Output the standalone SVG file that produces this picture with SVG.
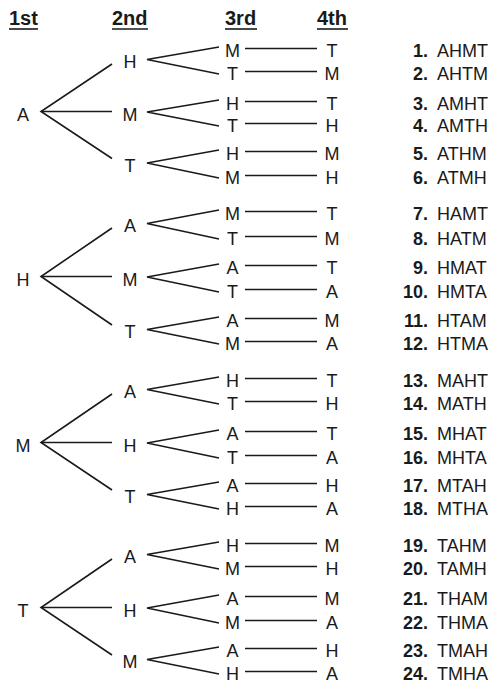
<svg xmlns="http://www.w3.org/2000/svg" width="490" height="684" viewBox="0 0 490 684">
<style>
text{font-family:"Liberation Sans",Arial,sans-serif;fill:#1a1a1a}
.h{font-size:20px;font-weight:bold}
.l{font-size:18px;text-anchor:middle}
.w{font-size:18px}
.n{font-size:18px;font-weight:bold;text-anchor:end}
.c line,.c polyline{stroke:#1a1a1a;stroke-width:1.6;fill:none}
.u{stroke:#1a1a1a;stroke-width:1.6}
</style>
<rect width="490" height="684" fill="#fff"/>
<g id="headers">
<g id="h1"><text class="h" x="9" y="25">1st</text><line class="u" x1="9" y1="29" x2="38" y2="29"/></g>
<g id="h2"><text class="h" x="112" y="25">2nd</text><line class="u" x1="112" y1="29" x2="148" y2="29"/></g>
<g id="h3"><text class="h" x="225" y="25">3rd</text><line class="u" x1="225" y1="29" x2="257" y2="29"/></g>
<g id="h4"><text class="h" x="317" y="25">4th</text><line class="u" x1="317" y1="29" x2="348" y2="29"/></g>
</g>
<g id="connectors" class="c">
<polyline points="112,64 41,111.5 112,158.5"/><line x1="41" y1="111.5" x2="112" y2="111.5"/>
<polyline points="219,47 147,59.5 219,74"/><polyline points="219,100 147,112 219,126"/><polyline points="219,150 147,163 219,178"/>
<line x1="245" y1="48.5" x2="317" y2="48.5"/><line x1="245" y1="71.5" x2="317" y2="71.5"/><line x1="245" y1="101.5" x2="317" y2="101.5"/><line x1="245" y1="123.5" x2="317" y2="123.5"/><line x1="245" y1="151.5" x2="317" y2="151.5"/><line x1="245" y1="175.5" x2="317" y2="175.5"/>
<polyline points="112,228 41,276.5 112,325"/><line x1="41" y1="276.5" x2="112" y2="276.5"/>
<polyline points="219,210 147,223.5 219,239"/><polyline points="219,264 147,277 219,292"/><polyline points="219,317 147,329.5 219,344"/>
<line x1="245" y1="211.5" x2="317" y2="211.5"/><line x1="245" y1="236.5" x2="317" y2="236.5"/><line x1="245" y1="265.5" x2="317" y2="265.5"/><line x1="245" y1="289.5" x2="317" y2="289.5"/><line x1="245" y1="318.5" x2="317" y2="318.5"/><line x1="245" y1="341.5" x2="317" y2="341.5"/>
<polyline points="112,394 41,442.5 112,490"/><line x1="41" y1="442.5" x2="112" y2="442.5"/>
<polyline points="219,377 147,389.5 219,404"/><polyline points="219,430 147,443 219,458"/><polyline points="219,482 147,494.5 219,509"/>
<line x1="245" y1="378.5" x2="317" y2="378.5"/><line x1="245" y1="401.5" x2="317" y2="401.5"/><line x1="245" y1="431.5" x2="317" y2="431.5"/><line x1="245" y1="455.5" x2="317" y2="455.5"/><line x1="245" y1="483.5" x2="317" y2="483.5"/><line x1="245" y1="506.5" x2="317" y2="506.5"/>
<polyline points="112,559 41,607.5 112,655"/><line x1="41" y1="607.5" x2="112" y2="607.5"/>
<polyline points="219,542 147,554.5 219,569"/><polyline points="219,595 147,608 219,623"/><polyline points="219,647 147,659.5 219,674"/>
<line x1="245" y1="543.5" x2="317" y2="543.5"/><line x1="245" y1="566.5" x2="317" y2="566.5"/><line x1="245" y1="596.5" x2="317" y2="596.5"/><line x1="245" y1="620.5" x2="317" y2="620.5"/><line x1="245" y1="648.5" x2="317" y2="648.5"/><line x1="245" y1="671.5" x2="317" y2="671.5"/>
</g>
<g id="level1">
<g id="n-A"><text class="l" x="23" y="120.5">A</text></g>
<g id="n-H"><text class="l" x="23" y="285.5">H</text></g>
<g id="n-M"><text class="l" x="23" y="451.5">M</text></g>
<g id="n-T"><text class="l" x="23" y="616.5">T</text></g>
</g>
<g id="level2">
<g id="n-AH"><text class="l" x="130" y="68">H</text></g>
<g id="n-AM"><text class="l" x="130" y="120.5">M</text></g>
<g id="n-AT"><text class="l" x="130" y="171.5">T</text></g>
<g id="n-HA"><text class="l" x="130" y="232">A</text></g>
<g id="n-HM"><text class="l" x="130" y="285.5">M</text></g>
<g id="n-HT"><text class="l" x="130" y="338">T</text></g>
<g id="n-MA"><text class="l" x="130" y="398">A</text></g>
<g id="n-MH"><text class="l" x="130" y="451.5">H</text></g>
<g id="n-MT"><text class="l" x="130" y="503">T</text></g>
<g id="n-TA"><text class="l" x="130" y="563">A</text></g>
<g id="n-TH"><text class="l" x="130" y="616.5">H</text></g>
<g id="n-TM"><text class="l" x="130" y="668">M</text></g>
</g>
<g id="level3">
<g id="n3-1"><text class="l" x="232.5" y="56.5">M</text></g>
<g id="n3-2"><text class="l" x="232.5" y="79.5">T</text></g>
<g id="n3-3"><text class="l" x="232.5" y="109.5">H</text></g>
<g id="n3-4"><text class="l" x="232.5" y="131.5">T</text></g>
<g id="n3-5"><text class="l" x="232.5" y="159.5">H</text></g>
<g id="n3-6"><text class="l" x="232.5" y="183.5">M</text></g>
<g id="n3-7"><text class="l" x="232.5" y="219.5">M</text></g>
<g id="n3-8"><text class="l" x="232.5" y="244.5">T</text></g>
<g id="n3-9"><text class="l" x="232.5" y="273.5">A</text></g>
<g id="n3-10"><text class="l" x="232.5" y="297.5">T</text></g>
<g id="n3-11"><text class="l" x="232.5" y="326.5">A</text></g>
<g id="n3-12"><text class="l" x="232.5" y="349.5">M</text></g>
<g id="n3-13"><text class="l" x="232.5" y="386.5">H</text></g>
<g id="n3-14"><text class="l" x="232.5" y="409.5">T</text></g>
<g id="n3-15"><text class="l" x="232.5" y="439.5">A</text></g>
<g id="n3-16"><text class="l" x="232.5" y="463.5">T</text></g>
<g id="n3-17"><text class="l" x="232.5" y="491.5">A</text></g>
<g id="n3-18"><text class="l" x="232.5" y="514.5">H</text></g>
<g id="n3-19"><text class="l" x="232.5" y="551.5">H</text></g>
<g id="n3-20"><text class="l" x="232.5" y="574.5">M</text></g>
<g id="n3-21"><text class="l" x="232.5" y="604.5">A</text></g>
<g id="n3-22"><text class="l" x="232.5" y="628.5">M</text></g>
<g id="n3-23"><text class="l" x="232.5" y="656.5">A</text></g>
<g id="n3-24"><text class="l" x="232.5" y="679.5">H</text></g>
</g>
<g id="level4">
<g id="n4-1"><text class="l" x="332" y="56.5">T</text></g>
<g id="n4-2"><text class="l" x="332" y="79.5">M</text></g>
<g id="n4-3"><text class="l" x="332" y="109.5">T</text></g>
<g id="n4-4"><text class="l" x="332" y="131.5">H</text></g>
<g id="n4-5"><text class="l" x="332" y="159.5">M</text></g>
<g id="n4-6"><text class="l" x="332" y="183.5">H</text></g>
<g id="n4-7"><text class="l" x="332" y="219.5">T</text></g>
<g id="n4-8"><text class="l" x="332" y="244.5">M</text></g>
<g id="n4-9"><text class="l" x="332" y="273.5">T</text></g>
<g id="n4-10"><text class="l" x="332" y="297.5">A</text></g>
<g id="n4-11"><text class="l" x="332" y="326.5">M</text></g>
<g id="n4-12"><text class="l" x="332" y="349.5">A</text></g>
<g id="n4-13"><text class="l" x="332" y="386.5">T</text></g>
<g id="n4-14"><text class="l" x="332" y="409.5">H</text></g>
<g id="n4-15"><text class="l" x="332" y="439.5">T</text></g>
<g id="n4-16"><text class="l" x="332" y="463.5">A</text></g>
<g id="n4-17"><text class="l" x="332" y="491.5">H</text></g>
<g id="n4-18"><text class="l" x="332" y="514.5">A</text></g>
<g id="n4-19"><text class="l" x="332" y="551.5">M</text></g>
<g id="n4-20"><text class="l" x="332" y="574.5">H</text></g>
<g id="n4-21"><text class="l" x="332" y="604.5">M</text></g>
<g id="n4-22"><text class="l" x="332" y="628.5">A</text></g>
<g id="n4-23"><text class="l" x="332" y="656.5">H</text></g>
<g id="n4-24"><text class="l" x="332" y="679.5">A</text></g>
</g>
<g id="results">
<g id="r1"><text class="n" x="428" y="56.5">1.</text><text class="w" x="437" y="56.5">AHMT</text></g>
<g id="r2"><text class="n" x="428" y="79.5">2.</text><text class="w" x="437" y="79.5">AHTM</text></g>
<g id="r3"><text class="n" x="428" y="109.5">3.</text><text class="w" x="437" y="109.5">AMHT</text></g>
<g id="r4"><text class="n" x="428" y="131.5">4.</text><text class="w" x="437" y="131.5">AMTH</text></g>
<g id="r5"><text class="n" x="428" y="159.5">5.</text><text class="w" x="437" y="159.5">ATHM</text></g>
<g id="r6"><text class="n" x="428" y="183.5">6.</text><text class="w" x="437" y="183.5">ATMH</text></g>
<g id="r7"><text class="n" x="428" y="219.5">7.</text><text class="w" x="437" y="219.5">HAMT</text></g>
<g id="r8"><text class="n" x="428" y="244.5">8.</text><text class="w" x="437" y="244.5">HATM</text></g>
<g id="r9"><text class="n" x="428" y="273.5">9.</text><text class="w" x="437" y="273.5">HMAT</text></g>
<g id="r10"><text class="n" x="428" y="297.5">10.</text><text class="w" x="437" y="297.5">HMTA</text></g>
<g id="r11"><text class="n" x="428" y="326.5">11.</text><text class="w" x="437" y="326.5">HTAM</text></g>
<g id="r12"><text class="n" x="428" y="349.5">12.</text><text class="w" x="437" y="349.5">HTMA</text></g>
<g id="r13"><text class="n" x="428" y="386.5">13.</text><text class="w" x="437" y="386.5">MAHT</text></g>
<g id="r14"><text class="n" x="428" y="409.5">14.</text><text class="w" x="437" y="409.5">MATH</text></g>
<g id="r15"><text class="n" x="428" y="439.5">15.</text><text class="w" x="437" y="439.5">MHAT</text></g>
<g id="r16"><text class="n" x="428" y="463.5">16.</text><text class="w" x="437" y="463.5">MHTA</text></g>
<g id="r17"><text class="n" x="428" y="491.5">17.</text><text class="w" x="437" y="491.5">MTAH</text></g>
<g id="r18"><text class="n" x="428" y="514.5">18.</text><text class="w" x="437" y="514.5">MTHA</text></g>
<g id="r19"><text class="n" x="428" y="551.5">19.</text><text class="w" x="437" y="551.5">TAHM</text></g>
<g id="r20"><text class="n" x="428" y="574.5">20.</text><text class="w" x="437" y="574.5">TAMH</text></g>
<g id="r21"><text class="n" x="428" y="604.5">21.</text><text class="w" x="437" y="604.5">THAM</text></g>
<g id="r22"><text class="n" x="428" y="628.5">22.</text><text class="w" x="437" y="628.5">THMA</text></g>
<g id="r23"><text class="n" x="428" y="656.5">23.</text><text class="w" x="437" y="656.5">TMAH</text></g>
<g id="r24"><text class="n" x="428" y="679.5">24.</text><text class="w" x="437" y="679.5">TMHA</text></g>
</g>
</svg>
